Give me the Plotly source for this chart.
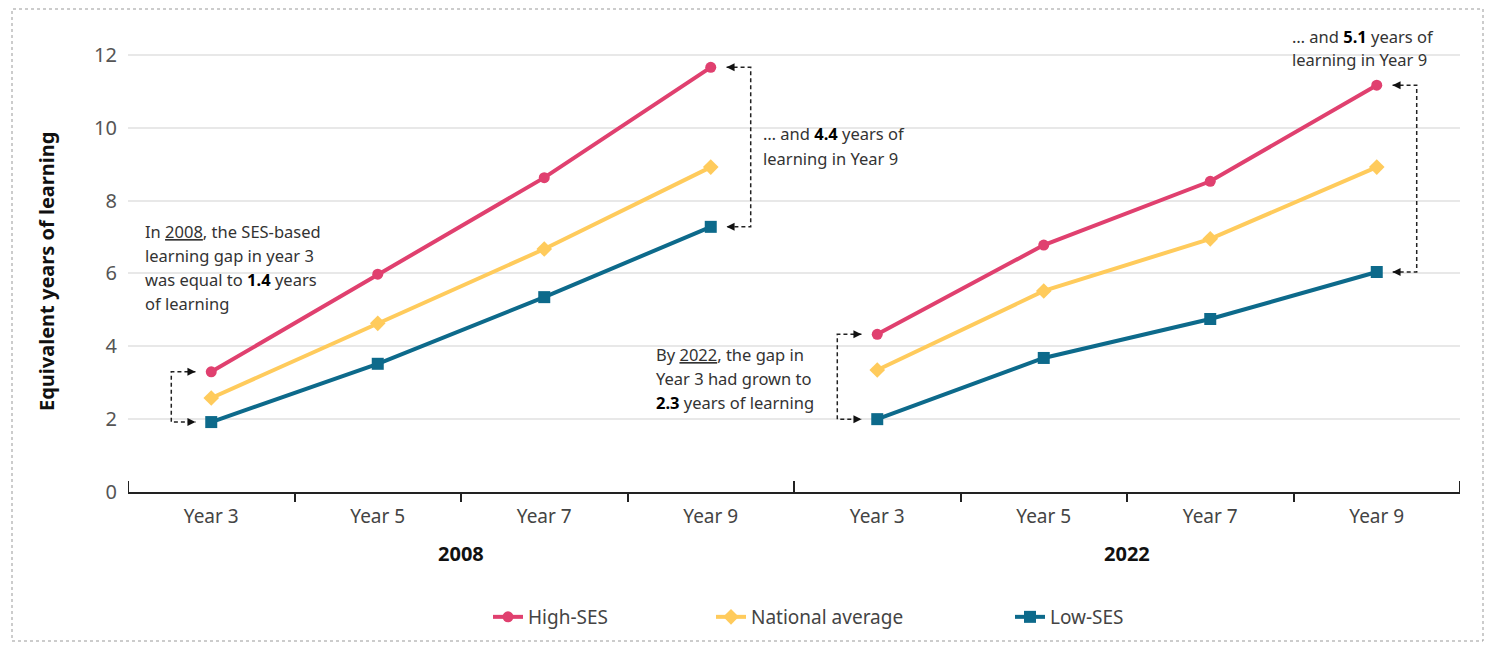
import plotly.graph_objects as go

# categories
years = ["2008", "2022"]
levels = ["Year 3", "Year 5", "Year 7", "Year 9"]

# equivalent years of learning
high_2008 = [3.30, 5.98, 8.63, 11.66]
nat_2008 = [2.58, 4.63, 6.67, 8.92]
low_2008 = [1.92, 3.52, 5.35, 7.28]
high_2022 = [4.33, 6.78, 8.53, 11.17]
nat_2022 = [3.35, 5.52, 6.95, 8.92]
low_2022 = [2.00, 3.68, 4.75, 6.04]

series = [
    ("High-SES", "#e0406f", "circle", 11, {"2008": high_2008, "2022": high_2022}),
    ("National average", "#ffcb5c", "diamond", 12, {"2008": nat_2008, "2022": nat_2022}),
    ("Low-SES", "#0d6a8b", "square", 12, {"2008": low_2008, "2022": low_2022}),
]
legend_text_x = [528, 751, 1050]  # where each legend label starts (screen px)

FONT = "Noto Sans"
OFF = 8  # page body margin
W, H = 1492 - OFF, 650 - OFF
L, R, T, B = 128 - OFF, 32, 44 - OFF, 158
YMAX = 12.3

def px_x(p):
    return (p - OFF - L) / (W - L - R)

def px_y(p):
    return (H - B - (p - OFF)) / (H - T - B)

fig = go.Figure()

# one line per year group so 2008 and 2022 are not joined
for k, (name, color, sym, size, vals) in enumerate(series):
    lg = "legend" if k == 0 else f"legend{k + 1}"
    for g, yr in enumerate(years):
        xs = [g * len(levels) + i for i in range(len(levels))]
        fig.add_trace(go.Scatter(
            x=xs, y=vals[yr], mode="lines+markers", name=name,
            legendgroup=name, showlegend=(g == 0), legend=lg,
            line=dict(color=color, width=4),
            marker=dict(symbol=sym, size=size, color=color),
            hoverinfo="skip"))

shapes = []
annotations = []

# dashed brackets with arrowheads showing the SES gap
def bracket(xc, y_top, y_bot, side):
    xv = xc + side * 0.24
    xt = xc + side * 0.095
    shapes.append(dict(
        type="path", xref="x", yref="y",
        path=f"M {xt},{y_top} L {xv},{y_top} L {xv},{y_bot} L {xt},{y_bot}",
        line=dict(color="#222", width=1.5, dash="4px,3px")))
    for yy in (y_top, y_bot):
        annotations.append(dict(
            x=xt, y=yy, xref="x", yref="y", text="", showarrow=True,
            ax=side * 7, ay=0, arrowhead=2, arrowsize=1, arrowwidth=1.6,
            arrowcolor="#111", standoff=0))

bracket(0, high_2008[0], low_2008[0], -1)
bracket(3, high_2008[3], low_2008[3], 1)
bracket(4, high_2022[0], low_2022[0], -1)
bracket(7, high_2022[3], low_2022[3], 1)

# notes, one annotation per line to keep the line spacing
def note(x, y_px, lines):
    for k, txt in enumerate(lines):
        annotations.append(dict(
            x=x, y=px_y(y_px + k * 24), xref="x", yref="paper", text=txt,
            showarrow=False, xanchor="left", yanchor="middle", align="left",
            font=dict(family=FONT, size=16.5, color="#333")))

B1 = "<b style='color:#000'>"
note(-0.41, 231, ["In <u>2008</u>, the SES-based", "learning gap in year 3",
                  f"was equal to {B1}1.4</b> years", "of learning"])
note(3.30, 134, [f"… and {B1}4.4</b> years of", "learning in Year 9"])
note(2.66, 354, ["By <u>2022</u>, the gap in", "Year 3 had grown to",
                 f"{B1}2.3</b> years of learning"])
note(6.48, 36, [f"… and {B1}5.1</b> years of", "learning in Year 9"])

# year group labels under the axis
for g, yr in enumerate(years):
    annotations.append(dict(
        x=g * len(levels) + (len(levels) - 1) / 2, y=px_y(553), xref="x", yref="paper",
        text=f"<b>{yr}</b>", showarrow=False, yanchor="middle",
        font=dict(family=FONT, size=20, color="#111")))

# y axis title
annotations.append(dict(
    x=px_x(46), y=px_y(272), xref="paper", yref="paper", textangle=-90,
    xanchor="center", yanchor="middle",
    text="<b>Equivalent years of learning</b>", showarrow=False,
    font=dict(family=FONT, size=20, color="#111")))

# upward stubs at the axis ends and the group divider
for xs in (-0.5, len(levels) - 0.5, 2 * len(levels) - 0.5):
    shapes.append(dict(type="line", xref="x", yref="y", x0=xs, x1=xs, y0=0, y1=0.3,
                       line=dict(color="#222", width=2)))

# dotted frame
shapes.append(dict(type="rect", xref="paper", yref="paper",
                   x0=px_x(12), x1=px_x(1483), y0=px_y(641), y1=px_y(9),
                   line=dict(color="#999", width=1, dash="dot"), layer="below"))

legends = {}
for k, tx in enumerate(legend_text_x):
    key = "legend" if k == 0 else f"legend{k + 1}"
    legends[key] = dict(orientation="h", x=px_x(tx - 40), xanchor="left", y=px_y(617),
                        yanchor="middle", bgcolor="rgba(0,0,0,0)",
                        font=dict(family=FONT, size=19, color="#444"))

fig.update_layout(
    width=W, height=H,
    margin=dict(l=L, r=R, t=T, b=B),
    paper_bgcolor="white", plot_bgcolor="white",
    font=dict(family=FONT, color="#444"),
    shapes=shapes, annotations=annotations,
    **legends,
)

fig.update_xaxes(
    range=[-0.5, 2 * len(levels) - 0.5],
    tickmode="array", tickvals=list(range(2 * len(levels))), ticktext=levels * 2,
    ticks="", showgrid=False, zeroline=False,
    showline=True, linecolor="#222", linewidth=2, ticklabelstandoff=6,
    tickfont=dict(family=FONT, size=19, color="#444"),
    minor=dict(tickmode="array",
               tickvals=[i + 0.5 for i in range(2 * len(levels) - 1) if i != len(levels) - 1],
               ticks="outside", ticklen=8, tickwidth=2, tickcolor="#222", showgrid=False),
)
fig.update_yaxes(
    range=[0, YMAX], tickvals=[0, 2, 4, 6, 8, 10, 12],
    showgrid=True, gridcolor="#e8e8e8", gridwidth=1.5, zeroline=False,
    showline=False, ticks="", ticklabelstandoff=10,
    tickfont=dict(family=FONT, size=20, color="#555"),
)

fig.write_html("out.html")
